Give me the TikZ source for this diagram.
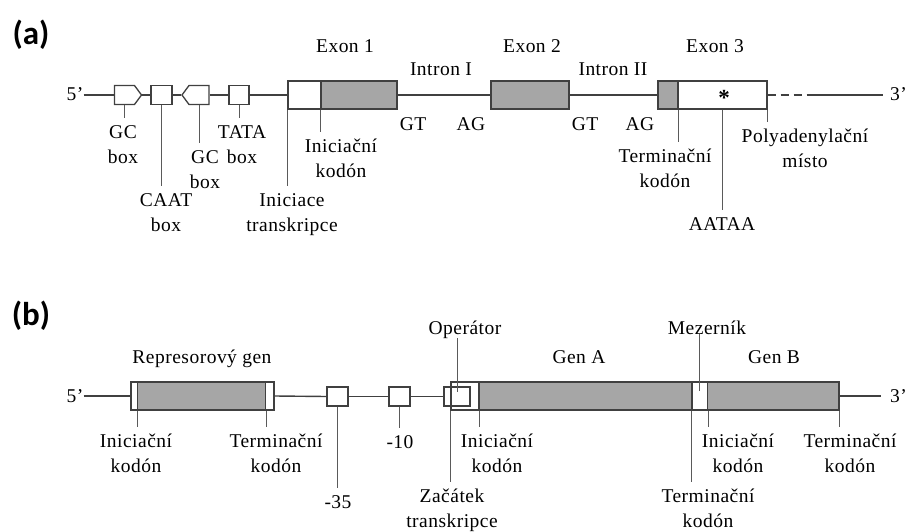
\documentclass[tikz,border=0pt]{standalone}
\usepackage{fontspec}
\setmainfont{Liberation Serif}[LetterSpace=2.5]
\newfontfamily\headfont{Carlito}
\usetikzlibrary{shapes.symbols}
\definecolor{lnc}{HTML}{404040}
\definecolor{tkc}{HTML}{5A5A5A}
\definecolor{gfill}{HTML}{A6A6A6}
\begin{document}
\begin{tikzpicture}[x=1pt,y=-1pt,
  lbl/.style={font=\fontsize{19.5}{24.5}\selectfont, align=center, inner sep=0pt, anchor=base},
  head/.style={font=\headfont\bfseries\fontsize{33}{33}\selectfont, inner sep=0pt},
  bb/.style={draw=lnc, line width=1.4pt},
  sbox/.style={draw=lnc, line width=1.3pt, fill=white, inner sep=0pt, minimum height=19pt},
  exw/.style={draw=lnc, line width=1.3pt, fill=white, inner sep=0pt, minimum height=28pt},
  exg/.style={exw, fill=gfill},
  tick/.style={draw=tkc, line width=1pt, shorten >=7pt},
  utick/.style={draw=tkc, line width=1pt, shorten <=5pt},
]
\useasboundingbox (0,0) rectangle (907,532);

%% ---------------- panel (a) ----------------
\node[head] (ha) at (31,35) {(a)};

\node[sbox, shape=signal, signal to=east, signal pointer angle=107, minimum width=27pt] (gc1) at (124.5,95) {};
\node[sbox, minimum width=21pt] (caat) at (161.5,95) {};
\node[sbox, shape=signal, signal to=west, signal pointer angle=107, minimum width=27pt] (gc2) at (199,95) {};
\node[sbox, minimum width=20pt] (tata) at (239,95) {};
\node[exw, minimum width=33pt] (ex1w) at (304.5,95) {};
\node[exg, minimum width=76pt] (ex1g) at (359,95) {};
\node[exg, minimum width=78pt] (ex2) at (530,95) {};
\node[exg, minimum width=20pt] (ex3g) at (668,95) {};
\node[exw, minimum width=89pt] (ex3w) at (722.5,95) {};
\node[lbl, font=\fontsize{23}{24}\selectfont\bfseries] (star) at (724,106) {*};
\coordinate (d1) at (807,95);

\node[lbl] (p5a) at (75,101) {5’};
\node[lbl, anchor=base west] (p3a) at (890,101) {3’};

\draw[bb] (p5a.east |- gc1.west) -- (gc1.west);
\draw[bb] (gc1.east) -- (caat.west);
\draw[bb] (caat.east) -- (gc2.west);
\draw[bb] (gc2.east) -- (tata.west);
\draw[bb] (tata.east) -- (ex1w.west);
\draw[bb] (ex1g.east) -- (ex2.west);
\draw[bb] (ex2.east) -- (ex3g.west);
\draw[bb, dash pattern=on 8pt off 5pt] (ex3w.east) -- (d1);
\draw[bb, shorten >=7pt] (d1) -- (p3a.west |- d1);

\node[lbl] (ex1l) at (345,53) {Exon 1};
\node[lbl] (ex2l) at (532,53) {Exon 2};
\node[lbl] (ex3l) at (715,53) {Exon 3};
\node[lbl] (in1l) at (441,76) {Intron I};
\node[lbl] (in2l) at (613,76) {Intron II};
\node[lbl] (gt1) at (413,131) {GT};
\node[lbl] (ag1) at (471,131) {AG};
\node[lbl] (gt2) at (585,131) {GT};
\node[lbl] (ag2) at (640,131) {AG};
\node[lbl] (gc1l) at (123,163) {GC\\box};
\node[lbl] (caatl) at (166,231) {CAAT\\box};
\node[lbl] (gc2l) at (205,188) {GC\\box};
\node[lbl] (tatal) at (242,163) {TATA\\box};
\node[lbl] (inikl) at (341,177) {Iniciační\\kodón};
\node[lbl] (initl) at (292,231) {Iniciace\\transkripce};
\node[lbl] (terml) at (665,187) {Terminační\\kodón};
\node[lbl] (aatl) at (722,230) {AATAA};
\node[lbl] (polyl) at (805,167) {Polyadenylační\\místo};

\draw[tick] (gc1.south) -- (gc1.south |- gc1l.north);
\draw[tick] (caat.south) -- (caat.south |- caatl.north);
\draw[tick] (gc2.south) -- (gc2.south |- gc2l.north);
\draw[tick] (tata.south) -- (tata.south |- tatal.north);
\draw[tick] (ex1w.south west) -- (ex1w.south west |- initl.north);
\draw[tick] (ex1g.south west) -- (ex1g.south west |- inikl.north);
\draw[tick] (ex3g.south east) -- (ex3g.south east |- terml.north);
\draw[tick] (ex3w.south) -- (ex3w.south |- aatl.north);
\draw[tick] (ex3w.south east) -- (ex3w.south east |- polyl.north);

%% ---------------- panel (b) ----------------
\node[head] (hb) at (31,316) {(b)};

\node[exw, minimum width=143pt] (rw) at (202.5,396) {};
\node[exg, minimum width=128pt] (rg) at (201.7,396) {};
\node[sbox, minimum width=21pt] (m35) at (337.5,396.5) {};
\node[sbox, minimum width=21pt] (m10) at (399.5,396.5) {};
\node[exw, minimum width=28pt] (opbig) at (465,396) {};
\node[sbox, minimum width=26pt, fill=none] (opsq) at (457,396.5) {};
\node[exg, minimum width=213pt] (ga) at (585.5,396) {};
\node[exw, minimum width=15.7pt] (mez) at (699.85,396) {};
\node[exg, minimum width=131.3pt] (gb) at (773.35,396) {};

\node[lbl] (p5b) at (75,402) {5’};
\node[lbl, anchor=base west] (p3b) at (890,402) {3’};

\draw[bb] (p5b.east |- rw.west) -- (rw.west);
\draw[bb] (rw.east) -- (m35.west);
\draw[bb] (m35.east) -- (m10.west);
\draw[bb] (m10.east) -- (opsq.west);
\draw[bb, shorten >=9pt] (gb.east) -- (p3b.west |- gb.east);

\node[lbl] (repl) at (202,363) {Represorový gen};
\node[lbl] (opl) at (465,334) {Operátor};
\node[lbl] (mezl) at (707,334) {Mezerník};
\node[lbl] (gal) at (579,363) {Gen A};
\node[lbl] (gbl) at (774,363) {Gen B};
\node[lbl] (ri) at (136,472) {Iniciační\\kodón};
\node[lbl] (rt) at (276,472) {Terminační\\kodón};
\node[lbl] (l10) at (400,448) {-10};
\node[lbl] (l35) at (338,508) {-35};
\node[lbl] (ai) at (497,472) {Iniciační\\kodón};
\node[lbl] (zt) at (452,527) {Začátek\\transkripce};
\node[lbl] (bi) at (738,472) {Iniciační\\kodón};
\node[lbl] (bt) at (850,472) {Terminační\\kodón};
\node[lbl] (mt) at (708,527) {Terminační\\kodón};

\draw[tick] (rg.south west) -- (rg.south west |- ri.north);
\draw[tick] (rg.south east) -- (rg.south east |- rt.north);
\draw[tick] (m35.south) -- (m35.south |- l35.north);
\draw[tick] (m10.south) -- (m10.south |- l10.north);
\draw[tick] (opbig.south west) -- (opbig.south west |- zt.north);
\draw[tick] (opbig.south east) -- (opbig.south east |- ai.north);
\draw[tick] (mez.south west) -- (mez.south west |- mt.north);
\draw[tick] (mez.south east) -- (mez.south east |- bi.north);
\draw[tick] (gb.south east) -- (gb.south east |- bt.north);
\draw[utick] (opsq.center) -- (opsq.center |- opl.south);
\draw[utick] (mez.center) -- (mez.center |- mezl.south);
\end{tikzpicture}
\end{document}
